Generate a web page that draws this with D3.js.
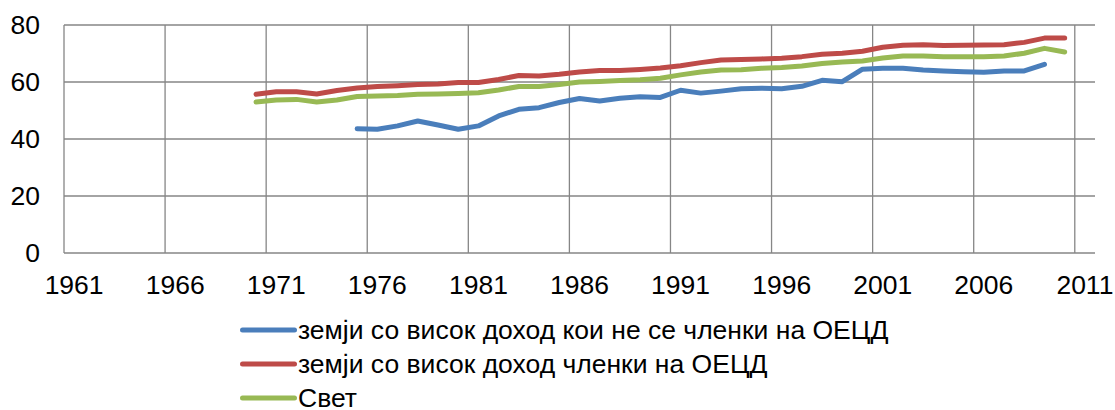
<!DOCTYPE html>
<html>
<head>
<meta charset="utf-8">
<script src="https://cdnjs.cloudflare.com/ajax/libs/d3/7.8.5/d3.min.js"></script>
<style>
  body { margin: 0; background: #fff; }
  text { font-family: "Liberation Sans", Arial, sans-serif; fill: #000; }
</style>
</head>
<body>
<div id="chart"></div>
<script>
// years on the category axis
const years = d3.range(1961, 2012);
const tickYears = [1961, 1966, 1971, 1976, 1981, 1986, 1991, 1996, 2001, 2006, 2011];
const yTicks = [0, 20, 40, 60, 80];

const seriesNames = [
  'земји со висок доход кои не се членки на ОЕЦД',
  'земји со висок доход членки на ОЕЦД',
  'Свет',
];

// non-OECD high income, 1975..2009
const nonOecd = [43.6, 43.4, 44.6, 46.3, 44.9, 43.4, 44.6, 48.1, 50.4, 51.0,
  52.8, 54.2, 53.3, 54.3, 54.8, 54.6, 57.1, 56.1, 56.8, 57.6,
  57.8, 57.6, 58.5, 60.6, 60.1, 64.5, 64.8, 64.8, 64.2, 63.9,
  63.6, 63.4, 63.9, 63.9, 66.2];
// OECD high income, 1970..2010
const oecd = [55.7, 56.6, 56.6, 55.8, 57.0, 57.9, 58.4, 58.7, 59.1, 59.3,
  59.8, 59.8, 60.9, 62.3, 62.1, 62.7, 63.5, 64.0, 64.0, 64.4,
  64.9, 65.7, 66.8, 67.7, 67.9, 68.1, 68.3, 68.9, 69.7, 70.1,
  70.8, 72.2, 72.9, 73.1, 72.8, 72.9, 73.0, 73.1, 73.9, 75.4,
  75.4];
// world, 1970..2010
const world = [53.0, 53.7, 53.9, 53.0, 53.7, 54.9, 55.1, 55.3, 55.7, 55.8,
  56.0, 56.2, 57.2, 58.4, 58.4, 59.1, 60.0, 60.2, 60.5, 60.8,
  61.3, 62.5, 63.5, 64.2, 64.3, 64.8, 65.1, 65.6, 66.5, 67.0,
  67.4, 68.4, 69.1, 69.1, 68.9, 68.9, 68.9, 69.1, 70.1, 71.8,
  70.5];

const colors = ['#4A7EBB', '#BE4B48', '#98B954'];

const width = 1115;
const height = 410;
const margin = { left: 64, top: 25, right: 20, bottom: 157 };
const fontSize = '26.5px';

const svg = d3.select('#chart').append('svg')
  .attr('width', width)
  .attr('height', height);

const x = d3.scaleBand()
  .domain(years)
  .range([margin.left, width - margin.right])
  .padding(0);
const y = d3.scaleLinear()
  .domain([0, 80])
  .range([height - margin.bottom, margin.top]);

const cx = (yr) => x(yr) + x.bandwidth() / 2;

// grid
const grid = svg.append('g').attr('class', 'grid')
  .attr('stroke', '#868686')
  .attr('stroke-width', 1.3);

grid.selectAll('line.h')
  .data(yTicks)
  .enter().append('line')
  .attr('class', 'h')
  .attr('x1', margin.left)
  .attr('x2', width - margin.right)
  .attr('y1', (d) => y(d))
  .attr('y2', (d) => y(d));

grid.selectAll('line.v')
  .data(tickYears)
  .enter().append('line')
  .attr('class', 'v')
  .attr('x1', (d) => x(d))
  .attr('x2', (d) => x(d))
  .attr('y1', y(0))
  .attr('y2', y(80));

// axis labels
svg.append('g').selectAll('text')
  .data(yTicks)
  .enter().append('text')
  .attr('x', 40)
  .attr('y', (d) => y(d))
  .attr('dy', '0.35em')
  .attr('text-anchor', 'end')
  .attr('font-size', fontSize)
  .text((d) => d);

svg.append('g').selectAll('text')
  .data(tickYears)
  .enter().append('text')
  .attr('x', (d) => cx(d))
  .attr('y', y(0) + 32)
  .attr('dy', '0.35em')
  .attr('text-anchor', 'middle')
  .attr('font-size', fontSize)
  .text((d) => d);

// lines
const series = [
  { start: 1975, values: nonOecd },
  { start: 1970, values: oecd },
  { start: 1970, values: world },
];

const line = d3.line()
  .x((d) => cx(d.year))
  .y((d) => y(d.value));

series.forEach((s, i) => {
  const pts = s.values.map((v, k) => ({ year: s.start + k, value: v }));
  svg.append('path')
    .datum(pts)
    .attr('fill', 'none')
    .attr('stroke', colors[i])
    .attr('stroke-width', 5)
    .attr('stroke-linecap', 'round')
    .attr('stroke-linejoin', 'round')
    .attr('d', line);
});

// legend
const legend = svg.append('g').attr('class', 'legend');
const rows = legend.selectAll('g')
  .data(seriesNames)
  .enter().append('g')
  .attr('transform', (d, i) => `translate(240, ${330 + i * 34})`);

rows.append('line')
  .attr('x1', 2.5)
  .attr('x2', 54.5)
  .attr('stroke', (d, i) => colors[i])
  .attr('stroke-width', 5)
  .attr('stroke-linecap', 'round');

rows.append('text')
  .attr('x', 58)
  .attr('dy', '0.35em')
  .attr('font-size', fontSize)
  .text((d) => d);
</script>
</body>
</html>
